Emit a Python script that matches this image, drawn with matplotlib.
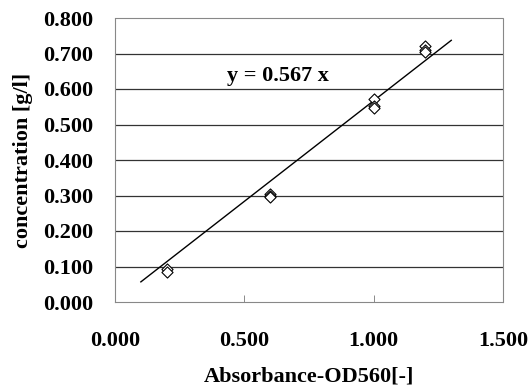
import matplotlib
matplotlib.use("Agg")
import matplotlib.pyplot as plt
import numpy as np

# ---- data ----------------------------------------------------------------
absorbance = [0.2, 0.2, 0.6, 0.6, 0.6, 1.0, 1.0, 1.0, 1.2, 1.2, 1.2]
concentration = [0.092, 0.085, 0.305, 0.298, 0.295, 0.572, 0.552, 0.547,
                 0.722, 0.710, 0.703]
slope = 0.567
fit_x = [0.1, 1.3]

x_ticks = [0.0, 0.5, 1.0, 1.5]
y_ticks = [0.0, 0.1, 0.2, 0.3, 0.4, 0.5, 0.6, 0.7, 0.8]

# ---- styling -------------------------------------------------------------
plt.rcParams["font.family"] = ["Liberation Serif", "DejaVu Serif"]
plt.rcParams["font.weight"] = "bold"
FONT = 16

fig = plt.figure(figsize=(5.31, 3.85), dpi=100)
ax = fig.add_axes([115 / 531, 1 - 302 / 385, 388 / 531, 284 / 385])

for y in y_ticks[1:-1]:
    ax.axhline(y, color="#333333", linewidth=0.9, zorder=1)

fx = np.array(fit_x)
ax.plot(fx, slope * fx, color="black", linewidth=1.0, zorder=2)

ax.scatter(absorbance, concentration, marker="D", s=32, facecolors="white",
           edgecolors="black", linewidths=0.8, zorder=3)

ax.text(0.433, 0.637, f"y = {slope} x", fontsize=FONT, fontweight="bold",
        ha="left", va="center")

ax.set_xlim(0, 1.5)
ax.set_ylim(0, 0.8)
ax.set_xticks(x_ticks)
ax.set_yticks(y_ticks)
ax.set_xticklabels([f"{v:.3f}" for v in x_ticks], fontsize=FONT, fontweight="bold")
ax.set_yticklabels([f"{v:.3f}" for v in y_ticks], fontsize=FONT, fontweight="bold")
ax.tick_params(axis="x", direction="in", length=5, width=0.6, pad=21,
               color="#777777")
ax.tick_params(axis="y", length=0, pad=16)

for spine in ax.spines.values():
    spine.set_linestyle((0, (1, 1)))
    spine.set_color("#888888")
    spine.set_linewidth(0.8)

ax.set_xlabel("Absorbance-OD560[-]", fontsize=FONT, fontweight="bold", labelpad=11)
ax.set_ylabel("concentration [g/l]", fontsize=FONT, fontweight="bold", labelpad=7)

fig.savefig("out.png", dpi=100, facecolor="white")
